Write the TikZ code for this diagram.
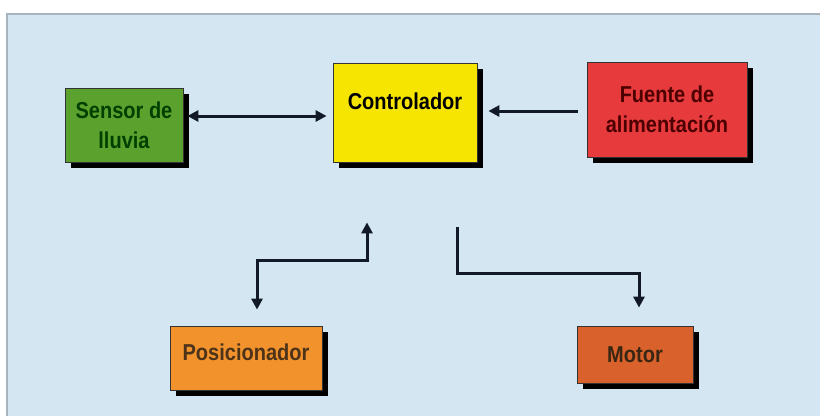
\documentclass[tikz,border=0pt]{standalone}
\usepackage{fontspec}
\setmainfont{Liberation Sans}[FakeStretch=0.87]
\usetikzlibrary{shadows,arrows.meta}
\definecolor{panelbg}{HTML}{D4E6F2}
\definecolor{panelline}{HTML}{A9B3BD}
\definecolor{cgreen}{HTML}{5BA12E}
\definecolor{cyellow}{HTML}{F6E500}
\definecolor{cred}{HTML}{E63A3C}
\definecolor{corange}{HTML}{F2922C}
\definecolor{cmotor}{HTML}{D9622C}
\definecolor{arrowc}{HTML}{121A28}
\tikzset{
  blk/.style={draw=black!80, line width=0.8pt, align=center, inner sep=0pt,
    font=\bfseries\fontsize{23}{30}\selectfont,
    drop shadow={shadow xshift=6pt, shadow yshift=-6pt, fill=black, opacity=1}},
  conn/.style={draw=arrowc, line width=3pt,
    arrows={-{Triangle[length=11pt,width=11pt]}}},
  dconn/.style={draw=arrowc, line width=3pt,
    arrows={{Triangle[length=11pt,width=11pt]}-{Triangle[length=11pt,width=11pt]}}}
}
\begin{document}
\begin{tikzpicture}[x=1pt,y=-1pt]
\useasboundingbox (0,0) rectangle (820,416);
\fill[white] (0,0) rectangle (820,416);
\fill[panelbg] (7,14) rectangle (820,416);
\draw[panelline, line width=1.5pt] (7,416) -- (7,14) -- (820,14);

\node[blk, fill=cgreen, text=green!25!black, minimum width=118pt, minimum height=74pt] (sensor) at (124,125) {Sensor de\\lluvia};
\node[blk, fill=cyellow, text=black, minimum width=144pt, minimum height=99pt, text depth=22pt] (ctrl) at (405,112.5) {Controlador};
\node[blk, fill=cred, text=red!30!black, minimum width=160pt, minimum height=95pt] (fuente) at (667,109.5) {Fuente de\\alimentación};
\node[blk, fill=corange, text=brown!40!black, minimum width=152pt, minimum height=64pt, text depth=12pt] (pos) at (246,358) {Posicionador};
\node[blk, fill=cmotor, text=brown!30!black, minimum width=116pt, minimum height=57pt] (motor) at (635,354.5) {Motor};

\draw[dconn] ([shift={(4,-9)}]sensor.east) -- ([shift={(-6,3.5)}]ctrl.west);
\draw[conn] ([shift={(-9,1.5)}]fuente.west) -- ([shift={(11,-1.5)}]ctrl.east);

\coordinate (p1) at ([shift={(-38,60)}]ctrl.south);
\coordinate (p2) at ([shift={(11,-16)}]pos.north);
\draw[dconn] (p1) -- ++(0,38) -| (p2);

\coordinate (m1) at ([shift={(52,65)}]ctrl.south);
\coordinate (m2) at ([shift={(4,-18)}]motor.north);
\draw[conn] (m1) -- ++(0,46) -| (m2);
\end{tikzpicture}
\end{document}
